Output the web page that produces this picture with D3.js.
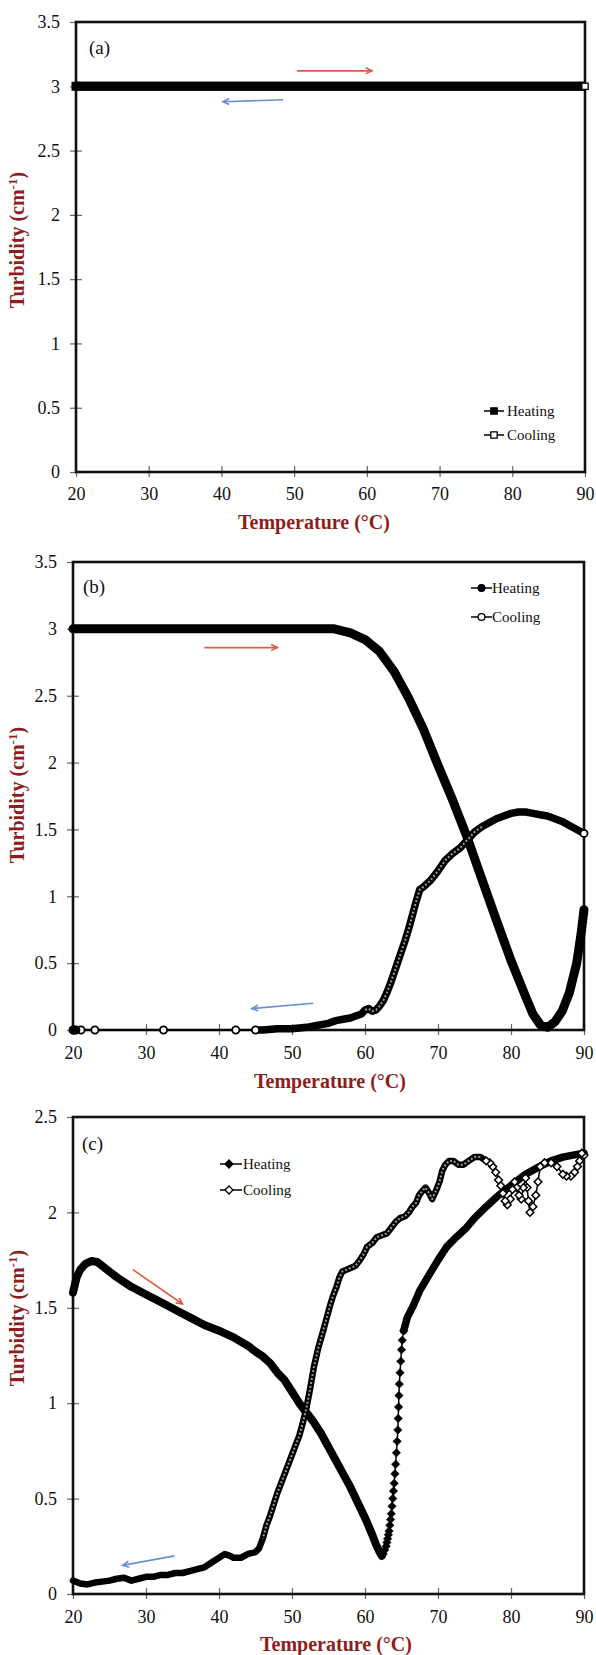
<!DOCTYPE html>
<html>
<head>
<meta charset="utf-8">
<script src="https://cdn.jsdelivr.net/npm/d3@7"></script>
<style>
  body { margin: 0; background: #fff; }
  svg { display: block; font-family: "Liberation Serif", "Times New Roman", serif; }
</style>
</head>
<body>
<div id="chart"></div>
<script>
// shared tick values
const tempTicks = [20, 30, 40, 50, 60, 70, 80, 90];
const turbTicksAB = [0, 0.5, 1, 1.5, 2, 2.5, 3, 3.5];
const turbTicksC = [0, 0.5, 1, 1.5, 2, 2.5];

// (a) [temperature, turbidity]
const aHeating = [[20, 3], [30, 3], [40, 3], [50, 3], [60, 3], [70, 3], [80, 3], [90, 3]];
const aCooling = [[90, 3], [80, 3], [70, 3], [60, 3], [50, 3], [40, 3], [30, 3], [20, 3]];
const aArrowHeat = [[50.4, 3.12], [60.7, 3.12]];
const aArrowCool = [[48.5, 2.895], [40.2, 2.88]];

// (b)
const bHeating = [[20, 3], [25, 3], [30, 3], [35, 3], [40, 3], [45, 3], [50, 3], [55.8, 3], [58, 2.97], [60, 2.92],
  [62, 2.83], [64, 2.68], [66, 2.48], [68, 2.25], [70, 1.98], [72, 1.72], [74, 1.44], [76, 1.13], [78, 0.82],
  [80, 0.52], [82, 0.25], [83, 0.12], [84, 0.04], [85, 0.02], [86, 0.06], [87, 0.14], [88, 0.28], [89, 0.5],
  [89.6, 0.72], [90, 0.9]];
const bCoolingDense = [[90, 1.47], [89, 1.5], [88, 1.53], [87, 1.56], [86, 1.58], [85, 1.6], [84, 1.61], [83, 1.62],
  [82, 1.63], [81, 1.63], [80, 1.62], [79, 1.6], [78, 1.58], [77, 1.55], [76, 1.52], [75, 1.48], [74, 1.42],
  [73, 1.36], [72, 1.32], [71, 1.27], [70, 1.19], [69, 1.12], [68, 1.07], [67.5, 1.05], [67, 0.96], [66.5, 0.86],
  [66, 0.76], [65.5, 0.67], [65, 0.59], [64.5, 0.51], [64, 0.43], [63.5, 0.35], [63, 0.28], [62.5, 0.22],
  [62, 0.18], [61.5, 0.15], [61, 0.14], [60.5, 0.16], [60, 0.15], [59.5, 0.12], [59, 0.11], [58, 0.09],
  [57, 0.08], [56, 0.07], [55, 0.05], [54, 0.04], [53, 0.03], [52, 0.02], [50, 0.01], [48, 0.01], [46, 0], [45, 0]];
const bCoolingSparse = [[45, 0], [42.3, 0], [32.4, 0], [23, 0], [21.1, 0], [20.4, 0], [20.2, 0], [20, 0]];
const bArrowHeat = [[38, 2.86], [48, 2.86]];
const bArrowCool = [[52.9, 0.2], [44.5, 0.16]];

// (c)
const cHeatingFall = [[20, 1.58], [20.5, 1.66], [21, 1.7], [21.7, 1.73], [22.5, 1.745], [23.3, 1.74], [24, 1.72],
  [25, 1.69], [26, 1.66], [27, 1.635], [28, 1.61], [30, 1.57], [32, 1.53], [34, 1.49], [36, 1.45], [38, 1.41],
  [40, 1.38], [42, 1.345], [44, 1.3], [45, 1.27], [46, 1.245], [47, 1.21], [48, 1.16], [49, 1.12], [50, 1.06],
  [51, 1.0], [52, 0.95], [53, 0.9], [54, 0.84], [55, 0.77], [56, 0.7], [57, 0.63], [58, 0.56], [59, 0.48],
  [60, 0.4], [61, 0.31], [61.5, 0.26], [62, 0.22], [62.3, 0.2]];
const cHeatingRise = [[62.3, 0.2], [62.5, 0.21], [62.7, 0.23], [62.9, 0.25], [63, 0.27], [63.1, 0.29], [63.2, 0.31],
  [63.3, 0.33], [63.4, 0.36], [63.5, 0.39], [63.6, 0.42], [63.7, 0.46], [63.8, 0.5], [63.9, 0.54], [64, 0.58],
  [64.1, 0.63], [64.2, 0.68], [64.3, 0.74], [64.4, 0.8], [64.5, 0.86], [64.55, 0.92], [64.6, 0.98], [64.65, 1.04],
  [64.7, 1.1], [64.8, 1.16], [64.9, 1.22], [65, 1.28], [65.1, 1.33], [65.3, 1.38]];
const cHeatingUpper = [[65.3, 1.38], [65.8, 1.45], [66.6, 1.51], [67.5, 1.59], [68.9, 1.68], [70, 1.75], [71.2, 1.82],
  [72.5, 1.87], [73.9, 1.92], [75, 1.97], [76.6, 2.03], [78, 2.08], [80.3, 2.15], [82, 2.2], [83.9, 2.24],
  [85.5, 2.27], [87.1, 2.29], [88.5, 2.3], [90, 2.31]];
const cCoolingHot = [[90, 2.3], [89.7, 2.31], [89.4, 2.27], [89.1, 2.24], [88.7, 2.21], [88.2, 2.19], [87.6, 2.19],
  [87.1, 2.2], [86.3, 2.24], [85.5, 2.26], [84.6, 2.26], [84, 2.24], [83.7, 2.16], [83.4, 2.09], [83, 2.03],
  [82.6, 2.0], [82.4, 2.06], [82.2, 2.13], [82, 2.18], [81.7, 2.13], [81.4, 2.07], [81.1, 2.09], [80.8, 2.13],
  [80.5, 2.16], [80.2, 2.12], [79.9, 2.07], [79.5, 2.04], [79.2, 2.06], [78.9, 2.1], [78.6, 2.14], [78.3, 2.17],
  [77.9, 2.21], [77.5, 2.24], [77.1, 2.26], [76.6, 2.27]];
const cCoolingMain = [[76.6, 2.27], [75.8, 2.29], [75, 2.29], [74.2, 2.27], [73.5, 2.25], [72.8, 2.25], [72.1, 2.27],
  [71.5, 2.27], [71, 2.25], [70.6, 2.22], [70.2, 2.16], [69.8, 2.12], [69.2, 2.07], [68.8, 2.1], [68.3, 2.13],
  [67.8, 2.11], [67.4, 2.09], [67, 2.05], [66.5, 2.03], [66, 2.0], [65.5, 1.98], [64.8, 1.97], [64.2, 1.95],
  [63.6, 1.92], [63, 1.89], [62.3, 1.88], [61.6, 1.87], [61, 1.84], [60.3, 1.82], [59.8, 1.78], [59.3, 1.75],
  [58.7, 1.72], [58.1, 1.71], [57.5, 1.7], [56.9, 1.69], [56.5, 1.66], [56.1, 1.61], [55.6, 1.56], [55.2, 1.51],
  [54.7, 1.44], [54.2, 1.37], [53.6, 1.29], [53, 1.19], [52.5, 1.08], [52, 0.98], [51.5, 0.9], [51, 0.83],
  [50.5, 0.78], [50, 0.73], [49.5, 0.68], [49, 0.63], [48.5, 0.58], [48, 0.53], [47.5, 0.47], [47, 0.41],
  [46.5, 0.36], [46, 0.29], [45.5, 0.24], [45, 0.22], [44, 0.21], [43, 0.19], [42, 0.19], [41.5, 0.2],
  [40.8, 0.21], [40, 0.19], [39.2, 0.17], [38, 0.14], [37, 0.13], [36, 0.12], [35, 0.11], [34, 0.11], [33, 0.1],
  [32, 0.1], [31, 0.09], [30, 0.09], [29, 0.08], [28, 0.07], [27, 0.085], [26, 0.08], [25, 0.07], [24, 0.065],
  [23, 0.06], [22, 0.05], [21, 0.055], [20, 0.07]];
const cArrowHeat = [[28.2, 1.7], [35, 1.52]];
const cArrowCool = [[33.9, 0.2], [26.8, 0.15]];

const seriesNames = ["Heating", "Cooling"];

const RED = "#8e1d1d";
const ARROW_RED = "#de5a44";
const ARROW_BLUE = "#6b8fd0";

const svg = d3.select("#chart").append("svg")
  .attr("width", 596)
  .attr("height", 1655);

svg.append("rect").attr("width", 596).attr("height", 1655).attr("fill", "#fff");

// rhombus marker (as the spreadsheet draws it)
const symDiamond = {
  draw(ctx, size) {
    const r = Math.sqrt(size / 2);
    ctx.moveTo(0, -r);
    ctx.lineTo(r, 0);
    ctx.lineTo(0, r);
    ctx.lineTo(-r, 0);
    ctx.closePath();
  }
};

function setupPanel(p) {
  const x = d3.scaleLinear().domain([20, 90]).range([p.left, p.right]);
  const y = d3.scaleLinear().domain([0, p.yMax]).range([p.bottom, p.top]);
  const g = svg.append("g");

  const ax = g.append("g")
    .attr("transform", `translate(0,${p.bottom})`)
    .call(d3.axisBottom(x).tickValues(tempTicks).tickSize(5).tickPadding(p.xPad).tickFormat(d3.format("d")));
  const ay = g.append("g")
    .attr("transform", `translate(${p.left},0)`)
    .call(d3.axisLeft(y).tickValues(p.yTicks).tickSize(6).tickPadding(10).tickFormat(d => String(d)));

  [ax, ay].forEach(a => {
    a.attr("font-family", null).attr("font-size", null);
    a.select(".domain").remove();
    a.selectAll(".tick line").attr("stroke", "#666").attr("stroke-width", 1.2);
    a.selectAll(".tick text").attr("fill", "#111").style("font-size", "18px");
  });
  ax.selectAll(".tick line").attr("y1", -6);
  ay.selectAll(".tick line").attr("x1", 6);

  g.append("rect")
    .attr("x", p.left).attr("y", p.top)
    .attr("width", p.right - p.left).attr("height", p.bottom - p.top)
    .attr("fill", "none").attr("stroke", "#111").attr("stroke-width", 2.6);

  g.append("text")
    .attr("x", p.xTitle[0]).attr("y", p.xTitle[1])
    .attr("text-anchor", "middle")
    .attr("font-weight", "bold").attr("font-size", 20).attr("fill", RED)
    .text("Temperature (°C)");

  const yt = g.append("text")
    .attr("transform", `translate(${p.yTitle[0]},${p.yTitle[1]}) rotate(-90)`)
    .attr("text-anchor", "middle")
    .attr("font-weight", "bold").attr("font-size", 20).attr("fill", RED);
  yt.append("tspan").text("Turbidity (cm");
  yt.append("tspan").attr("dy", -7).attr("font-size", 13).text("-1");
  yt.append("tspan").attr("dy", 7).text(")");

  g.append("text")
    .attr("x", p.labelPos[0]).attr("y", p.labelPos[1])
    .attr("font-size", 19).attr("fill", "#111")
    .text(p.label);

  return { g, x, y, p };
}

function band(P, data, width, cap) {
  const line = d3.line().x(d => P.x(d[0])).y(d => P.y(d[1]));
  return P.g.append("path")
    .attr("d", line(data))
    .attr("fill", "none").attr("stroke", "#000")
    .attr("stroke-width", width)
    .attr("stroke-linejoin", "round").attr("stroke-linecap", cap);
}

// hollow markers packed together leave a light core inside the dark band
function hollowCore(P, data, width) {
  const line = d3.line().x(d => P.x(d[0])).y(d => P.y(d[1]));
  P.g.append("path")
    .attr("d", line(data))
    .attr("fill", "none").attr("stroke", "#9a9a9a")
    .attr("stroke-width", width)
    .attr("stroke-dasharray", "2,2")
    .attr("stroke-linejoin", "round");
}

function thinLine(P, data) {
  const line = d3.line().x(d => P.x(d[0])).y(d => P.y(d[1]));
  P.g.append("path")
    .attr("d", line(data))
    .attr("fill", "none").attr("stroke", "#000").attr("stroke-width", 1.5);
}

function markers(P, data, type, size, fill, sw) {
  P.g.append("g").selectAll("path")
    .data(data)
    .join("path")
    .attr("transform", d => `translate(${P.x(d[0])},${P.y(d[1])})`)
    .attr("d", d3.symbol().type(type).size(size))
    .attr("fill", fill)
    .attr("stroke", "#000")
    .attr("stroke-width", sw);
}

function legend(P, L, type, size) {
  seriesNames.forEach((name, i) => {
    const yy = L.ys[i];
    P.g.append("line")
      .attr("x1", L.line[0]).attr("x2", L.line[1])
      .attr("y1", yy).attr("y2", yy)
      .attr("stroke", "#000").attr("stroke-width", 1.5);
    P.g.append("path")
      .attr("transform", `translate(${L.mark},${yy})`)
      .attr("d", d3.symbol().type(type).size(size))
      .attr("fill", i === 0 ? "#000" : "#fff")
      .attr("stroke", "#000").attr("stroke-width", 1.3);
    P.g.append("text")
      .attr("x", L.text).attr("y", yy + 5)
      .attr("font-size", 15).attr("fill", "#111")
      .text(name);
  });
}

function arrow(P, pts, color) {
  const x1 = P.x(pts[0][0]), y1 = P.y(pts[0][1]);
  const x2 = P.x(pts[1][0]), y2 = P.y(pts[1][1]);
  const a = Math.atan2(y2 - y1, x2 - x1);
  const len = 7, spread = 0.45;
  P.g.append("line")
    .attr("x1", x1).attr("y1", y1).attr("x2", x2).attr("y2", y2)
    .attr("stroke", color).attr("stroke-width", 1.6);
  P.g.append("path")
    .attr("d", `M${x2 - len * Math.cos(a - spread)},${y2 - len * Math.sin(a - spread)}L${x2},${y2}L${x2 - len * Math.cos(a + spread)},${y2 - len * Math.sin(a + spread)}`)
    .attr("fill", "none").attr("stroke", color).attr("stroke-width", 1.6);
}

// ---------- panel (a) ----------
const A = setupPanel({
  label: "(a)", left: 76, right: 585, top: 22, bottom: 472, yMax: 3.5, yTicks: turbTicksAB, xPad: 10,
  xTitle: [314, 529], yTitle: [24, 240], labelPos: [89, 54]
});
band(A, aCooling, 9, "butt");
band(A, aHeating, 9, "butt");
markers(A, aHeating.slice(0, 1), d3.symbolSquare, 81, "#000", 0);
markers(A, aCooling.slice(0, 1), d3.symbolSquare, 40, "#fff", 1.3);
legend(A, { line: [484, 504], mark: 494, text: 507, ys: [411, 435] }, d3.symbolSquare, 40);
arrow(A, aArrowHeat, ARROW_RED);
arrow(A, aArrowCool, ARROW_BLUE);

// ---------- panel (b) ----------
const B = setupPanel({
  label: "(b)", left: 73, right: 584, top: 562, bottom: 1030, yMax: 3.5, yTicks: turbTicksAB, xPad: 11,
  xTitle: [330, 1088], yTitle: [24, 795], labelPos: [83, 593]
});
band(B, bHeating, 9, "round");
band(B, bCoolingDense, 7.5, "round");
hollowCore(B, bCoolingDense.filter(d => d[0] >= 60 && d[0] <= 76), 2);
thinLine(B, bCoolingSparse);
markers(B, bCoolingSparse.slice(0, 5), d3.symbolCircle, 40, "#fff", 1.8);
markers(B, bCoolingSparse.slice(5), d3.symbolCircle, 40, "#000", 1.8);
markers(B, bCoolingDense.slice(0, 1), d3.symbolCircle, 40, "#fff", 1.8);
legend(B, { line: [471, 492], mark: 481.5, text: 492, ys: [588, 617] }, d3.symbolCircle, 36);
arrow(B, bArrowHeat, ARROW_RED);
arrow(B, bArrowCool, ARROW_BLUE);

// ---------- panel (c) ----------
const C = setupPanel({
  label: "(c)", left: 73, right: 584, top: 1117, bottom: 1594, yMax: 2.5, yTicks: turbTicksC, xPad: 11,
  xTitle: [336, 1651], yTitle: [24, 1318], labelPos: [82, 1150]
});
band(C, cHeatingFall, 8, "round");
band(C, cHeatingUpper, 7.5, "round");
thinLine(C, cHeatingRise);
markers(C, cHeatingRise, symDiamond, 36, "#000", 0.5);
band(C, cCoolingMain, 6.5, "round");
hollowCore(C, cCoolingMain.filter(d => d[0] >= 46 && d[0] <= 76), 2);
thinLine(C, cCoolingHot);
markers(C, cCoolingHot, symDiamond, 30, "#fff", 1.5);
legend(C, { line: [220, 242], mark: 229, text: 243, ys: [1164, 1190] }, symDiamond, 32);
arrow(C, cArrowHeat, ARROW_RED);
arrow(C, cArrowCool, ARROW_BLUE);
</script>
</body>
</html>
